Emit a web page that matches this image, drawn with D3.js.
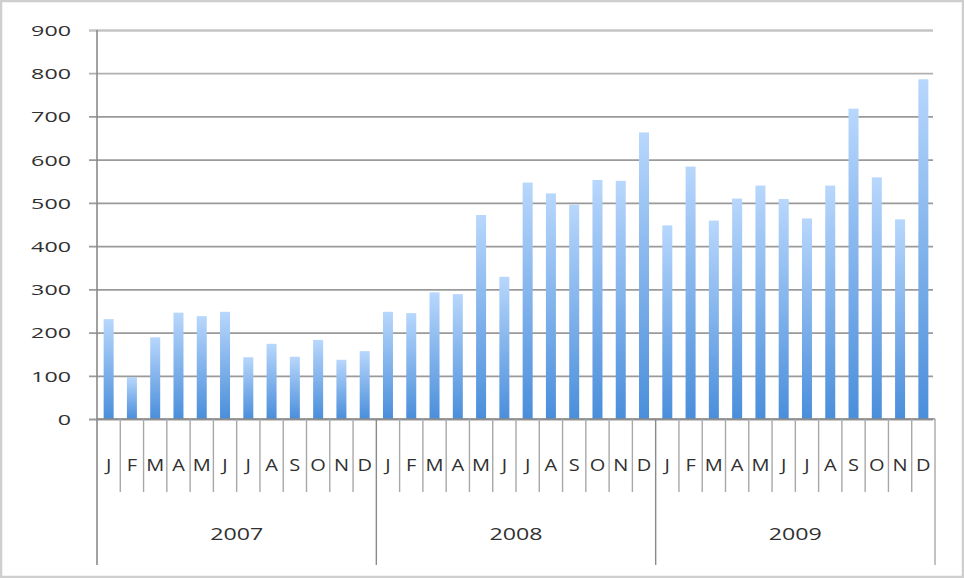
<!DOCTYPE html>
<html>
<head>
<meta charset="utf-8">
<script src="https://cdn.jsdelivr.net/npm/d3@7"></script>
<style>
  html, body { margin: 0; padding: 0; background: #fff; }
  svg { display: block; }
  text { font-family: "Open Sans", "DejaVu Sans", sans-serif; fill: #303030; }
</style>
</head>
<body>
<svg id="chart" width="964" height="578"></svg>
<script>
const years = ["2007", "2008", "2009"];
const months = ["J", "F", "M", "A", "M", "J", "J", "A", "S", "O", "N", "D"];
const values2007 = [231, 97, 189, 246, 238, 248, 143, 174, 144, 183, 137, 157];
const values2008 = [248, 245, 293, 289, 472, 329, 547, 522, 496, 553, 551, 663];
const values2009 = [448, 584, 459, 510, 540, 509, 464, 540, 718, 559, 462, 786];
const yTicks = [0, 100, 200, 300, 400, 500, 600, 700, 800, 900];

(function () {
const seriesByYear = [values2007, values2008, values2009];
const data = [];
years.forEach((yr, yi) => {
  months.forEach((m, mi) => {
    data.push({ key: yr + "-" + mi, year: yr, month: m, value: seriesByYear[yi][mi] });
  });
});

const svg = d3.select("#chart");
const W = 964, H = 578;
const mLeft = 97, mRight = 935, mTop = 30, mBottom = 419;

// outer frame
svg.append("rect").attr("x", 1).attr("y", 1).attr("width", W - 2).attr("height", H - 2)
  .attr("fill", "#fff").attr("stroke", "#cfcfcf").attr("stroke-width", 2.5);

const x = d3.scaleBand().domain(data.map(d => d.key)).range([mLeft, mRight]).paddingInner(0).paddingOuter(0);
const y = d3.scaleLinear().domain([0, 900]).range([mBottom, mTop]);

const defs = svg.append("defs");
const grad = defs.append("linearGradient").attr("id", "barGrad")
  .attr("x1", 0).attr("y1", 0).attr("x2", 0).attr("y2", 1);
grad.append("stop").attr("offset", "0%").attr("stop-color", "#b8d7fc");
grad.append("stop").attr("offset", "100%").attr("stop-color", "#4a8edb");

const blur = defs.append("filter").attr("id", "soft").attr("x", "-50%").attr("y", "-50%").attr("width", "200%").attr("height", "200%");
blur.append("feGaussianBlur").attr("stdDeviation", 0.6);

// gridlines + y axis
const yAxis = d3.axisLeft(y).tickValues(yTicks).tickSize(-(mRight - 2 - mLeft)).tickPadding(0).tickFormat(d3.format("d"));
const gy = svg.append("g").attr("transform", `translate(${mLeft},0)`).call(yAxis);
gy.select(".domain").remove();
gy.selectAll(".tick line")
  .attr("x1", -8)
  .attr("stroke", d => d === 900 ? "#c4c4c4" : (d === 800 ? "#b0b0b0" : "#9a9a9a"))
  .attr("stroke-width", d => d === 900 ? 2.6 : 1.8);
gy.selectAll(".tick text")
  .attr("x", -26)
  .attr("dy", "0.36em")
  .attr("text-anchor", "end")
  .style("font-size", "15px")
  .attr("textLength", d => String(d).length * 13.3)
  .attr("lengthAdjust", "spacingAndGlyphs")
  .attr("fill", "#383838");

// bars
const barW = 10;
svg.append("g").selectAll("rect").data(data).join("rect")
  .attr("x", d => x(d.key) + x.bandwidth() / 2 - barW / 2)
  .attr("y", d => y(d.value))
  .attr("width", barW)
  .attr("height", d => y(0) - y(d.value))
  .attr("fill", "url(#barGrad)")
  .attr("filter", "url(#soft)");

// vertical axis line
svg.append("line").attr("x1", mLeft).attr("x2", mLeft).attr("y1", mTop).attr("y2", 565)
  .attr("stroke", "#8a8a8a").attr("stroke-width", 1.6);
// baseline
svg.append("line").attr("x1", mLeft).attr("x2", mRight).attr("y1", mBottom).attr("y2", mBottom)
  .attr("stroke", "#8a8a8a").attr("stroke-width", 1.6);

// month separators
const sepG = svg.append("g");
data.forEach((d, i) => {
  if (i === 0) return;
  const xx = x(d.key);
  const isYear = i % 12 === 0;
  sepG.append("line").attr("x1", xx).attr("x2", xx).attr("y1", mBottom)
    .attr("y2", isYear ? 565 : 492)
    .attr("stroke", isYear ? "#8a8a8a" : "#a8a8a8").attr("stroke-width", 1.4);
});
sepG.append("line").attr("x1", mRight).attr("x2", mRight).attr("y1", mBottom).attr("y2", 565)
  .attr("stroke", "#a8a8a8").attr("stroke-width", 1.4);

// month labels
svg.append("g").selectAll("text").data(data).join("text")
  .attr("transform", d => `translate(${x(d.key) + x.bandwidth() / 2},471) scale(1.25,1)`)
  .attr("text-anchor", "middle")
  .style("font-size", "16px")
  .text(d => d.month);

// year labels
const yearW = (mRight - mLeft) / years.length;
svg.append("g").selectAll("text").data(years).join("text")
  .attr("x", (d, i) => mLeft + yearW * (i + 0.5))
  .attr("y", 540)
  .attr("text-anchor", "middle")
  .style("font-size", "16px")
  .attr("textLength", 53)
  .attr("lengthAdjust", "spacingAndGlyphs")
  .text(d => d);
})();
</script>
</body>
</html>
